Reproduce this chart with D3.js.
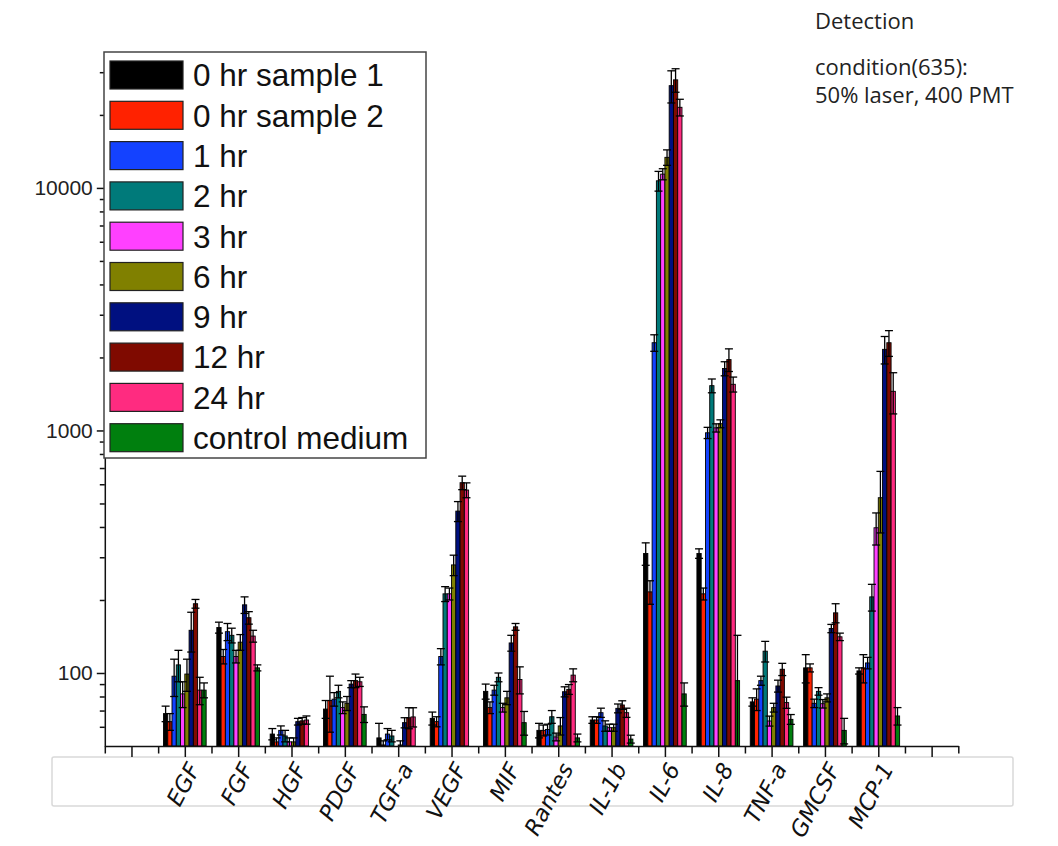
<!DOCTYPE html>
<html>
<head>
<meta charset="utf-8">
<script src="https://cdn.jsdelivr.net/npm/d3@7"></script>
<style>
  body { margin: 0; background: #fff; }
  svg { display: block; }
</style>
</head>
<body>
<div id="chart"></div>
<script>
// cytokine names (x categories, positions 1..14)
var categories = ["EGF", "FGF", "HGF", "PDGF", "TGF-a", "VEGF", "MIF", "Rantes", "IL-1b", "IL-6", "IL-8", "TNF-a", "GMCSF", "MCP-1"];

var seriesNames = ["0 hr sample 1", "0 hr sample 2", "1 hr", "2 hr", "3 hr", "6 hr", "9 hr", "12 hr", "24 hr", "control medium"];
var seriesColors = ["#000000", "#ff2200", "#1442ff", "#007a7a", "#ff40ff", "#808000", "#001080", "#7f0a00", "#ff2b80", "#007f0e"];

// intensities per series, in category order
var hr0s1  = [68, 154, 56, 71, 54, 65, 84, 58, 64, 311, 311, 76, 105, 102];
var hr0s2  = [63, 117, 52, 77, 50.5, 63, 72, 58, 64, 216, 212, 78, 105, 105];
var hr1    = [97, 148, 58, 78, 56, 117, 85, 58.5, 68.6, 2300, 978, 93, 75, 110];
var hr2    = [108, 143, 55, 84, 55, 212, 96, 66, 60.5, 10700, 1530, 123, 84, 206];
var hr3    = [82, 117, 52, 72, 49, 212, 72, 54.5, 59.5, 11400, 1025, 63.4, 74.7, 397];
var hr6    = [99, 134, 52, 75, 50.5, 279, 79, 60.5, 59.5, 13370, 1066, 72, 79, 528];
var hr9    = [150, 191, 63, 90, 62.4, 465, 133, 83.7, 71.5, 26400, 1800, 88.4, 152.6, 2160];
var hr12   = [193, 169, 63.5, 93, 65.4, 609, 155, 85.6, 73.8, 27900, 1960, 103.6, 177, 2300];
var hr24   = [85, 142, 64, 92, 65.9, 568, 94, 98, 68.6, 21500, 1550, 75.5, 141, 1450];
var control = [85, 105, 48, 67.5, 48, 48, 62.4, 54, 53.4, 82, 93, 64.4, 58, 66.5];

// error bar half-heights (same order)
var err0s1 = [5, 8, 3, 6, 8, 4, 6, 4, 2, 33, 14, 3, 14, 3];
var err0s2 = [5, 8, 2, 20, 2, 3, 4, 3, 2, 24, 12, 8, 4, 14];
var err1   = [17, 12, 2.5, 5, 3, 9, 4, 3, 3, 180, 52, 4, 3, 6];
var err2   = [16, 10, 3, 5, 3, 15, 4, 4, 3, 1000, 100, 12, 3, 26];
var err3   = [10, 7, 2, 4, 1, 12, 3, 2, 2, 600, 40, 3, 3, 60];
var err6   = [15, 10, 2, 5, 2, 27, 5, 5, 2, 980, 40, 3, 3, 150];
var err9   = [28, 15, 2, 3, 3, 44, 10, 4, 3, 4000, 120, 5, 6, 280];
var err12  = [8, 10, 2, 6, 6.5, 39, 5, 4, 3, 3100, 210, 6, 16, 280];
var err24  = [11, 8, 2.5, 4, 6, 40, 12, 6, 3, 1700, 110, 4, 5, 280];
var errCtl = [6, 3, 0, 5, 0, 0, 7, 2, 2, 9, 50, 3, 7, 5.5];

var yMajor = [100, 1000, 10000];
var yMinor = [60, 70, 80, 90, 200, 300, 400, 500, 600, 700, 800, 900,
              2000, 3000, 4000, 5000, 6000, 7000, 8000, 9000, 20000, 30000];

var values = [hr0s1, hr0s2, hr1, hr2, hr3, hr6, hr9, hr12, hr24, control];
var errors = [err0s1, err0s2, err1, err2, err3, err6, err9, err12, err24, errCtl];

var width = 1058, height = 846;

var svg = d3.select("#chart").append("svg")
    .attr("width", width)
    .attr("height", height);

// scales
var x = d3.scaleLinear().domain([-0.5, 15.5]).range([104.8, 958.3]);
var y = d3.scaleLog().domain([50, 36000]).range([746, 53]);
var step = x(1) - x(0);
var barW = step * 0.08;

// light box behind the category labels
svg.append("rect")
    .attr("x", 52).attr("y", 757)
    .attr("width", 961).attr("height", 49)
    .attr("rx", 2)
    .attr("fill", "none")
    .attr("stroke", "#d9d9d9")
    .attr("stroke-width", 1.5);

var plot = svg.append("g");

// flatten into one record per bar
var bars = [];
values.forEach(function(vals, j) {
    vals.forEach(function(v, i) {
        bars.push({ s: j, c: i + 1, v: v, e: errors[j][i] });
    });
});

function barX(d) { return x(d.c) - step * 0.4 + d.s * barW; }
function clampY(v) { return Math.min(y(Math.max(v, 1)), y(50)); }

plot.selectAll("rect.bar")
    .data(bars.filter(function(d) { return d.v > 50; }))
    .enter().append("rect")
    .attr("class", "bar")
    .attr("x", barX)
    .attr("y", function(d) { return y(d.v); })
    .attr("width", barW)
    .attr("height", function(d) { return y(50) - y(d.v); })
    .attr("fill", function(d) { return seriesColors[d.s]; })
    .attr("stroke", "#000")
    .attr("stroke-width", 0.9);

// error bars (both directions, like Origin)
var eb = plot.selectAll("g.err")
    .data(bars.filter(function(d) { return d.v > 50 && d.e > 0; }))
    .enter().append("g")
    .attr("class", "err")
    .attr("stroke", "#000")
    .attr("stroke-width", 1.3);

eb.append("line")
    .attr("x1", function(d) { return barX(d) + barW / 2; })
    .attr("x2", function(d) { return barX(d) + barW / 2; })
    .attr("y1", function(d) { return clampY(d.v - d.e); })
    .attr("y2", function(d) { return y(d.v + d.e); });

eb.append("line")
    .attr("x1", function(d) { return barX(d) + barW / 2 - 4; })
    .attr("x2", function(d) { return barX(d) + barW / 2 + 4; })
    .attr("y1", function(d) { return y(d.v + d.e); })
    .attr("y2", function(d) { return y(d.v + d.e); });

eb.filter(function(d) { return d.v - d.e > 50; }).append("line")
    .attr("x1", function(d) { return barX(d) + barW / 2 - 4; })
    .attr("x2", function(d) { return barX(d) + barW / 2 + 4; })
    .attr("y1", function(d) { return y(d.v - d.e); })
    .attr("y2", function(d) { return y(d.v - d.e); });

// y axis
var yAxis = svg.append("g")
    .attr("transform", "translate(" + x(-0.5) + ",0)")
    .call(d3.axisLeft(y).tickValues(yMajor).tickSize(8).tickSizeOuter(0)
        .tickFormat(d3.format("d")));
yAxis.selectAll("text")
    .attr("font-family", "'Liberation Sans', Arial, sans-serif")
    .attr("font-size", 21)
    .attr("fill", "#222")
    .attr("x", -12);
svg.append("g")
    .attr("transform", "translate(" + x(-0.5) + ",0)")
    .call(d3.axisLeft(y).tickValues(yMinor).tickSize(5).tickFormat(""))
    .select(".domain").remove();

// x axis: long ticks at integer slots, short ticks between
var xAxis = svg.append("g")
    .attr("transform", "translate(0," + y(50) + ")")
    .call(d3.axisBottom(x).tickValues(d3.range(0, 16)).tickSize(11).tickSizeOuter(0).tickFormat(""));
svg.append("g")
    .attr("transform", "translate(0," + y(50) + ")")
    .call(d3.axisBottom(x).tickValues(d3.range(-0.5, 16, 1)).tickSize(7.5).tickFormat(""))
    .select(".domain").remove();

svg.selectAll(".domain, .tick line")
    .attr("stroke", "#111")
    .attr("stroke-width", 1.5);

// rotated category labels
svg.selectAll("text.cat")
    .data(categories)
    .enter().append("text")
    .attr("class", "cat")
    .attr("transform", function(d, i) {
        return "translate(" + (x(i + 1) + 2) + ",761) rotate(-62)";
    })
    .attr("text-anchor", "end")
    .attr("dy", "0.7em")
    .attr("font-family", "'DejaVu Sans', Verdana, sans-serif")
    .attr("font-style", "italic")
    .attr("font-size", 22.5)
    .attr("fill", "#111")
    .text(function(d) { return d; });

// legend
var legend = svg.append("g");
legend.append("rect")
    .attr("x", 104).attr("y", 52)
    .attr("width", 322).attr("height", 406)
    .attr("fill", "#fff")
    .attr("stroke", "#444")
    .attr("stroke-width", 1.5);

var item = legend.selectAll("g.item")
    .data(seriesNames)
    .enter().append("g")
    .attr("class", "item")
    .attr("transform", function(d, i) { return "translate(0," + (75 + i * 40.3) + ")"; });

item.append("rect")
    .attr("x", 110).attr("y", -14)
    .attr("width", 73).attr("height", 28)
    .attr("fill", function(d, i) { return seriesColors[i]; })
    .attr("stroke", "#222")
    .attr("stroke-width", 1.2);

item.append("text")
    .attr("x", 193)
    .attr("dy", "0.36em")
    .attr("font-family", "'Liberation Sans', Arial, sans-serif")
    .attr("font-size", 31.5)
    .attr("fill", "#111")
    .text(function(d) { return d; });

// detection note, top right
var note = ["Detection", "condition(635):", "50% laser, 400 PMT"];
svg.selectAll("text.note")
    .data(note)
    .enter().append("text")
    .attr("class", "note")
    .attr("x", 815)
    .attr("y", function(d, i) { return [29, 75, 103][i]; })
    .attr("font-family", "'Open Sans', sans-serif")
    .attr("font-size", 22)
    .attr("fill", "#222")
    .text(function(d) { return d; });
</script>
</body>
</html>
